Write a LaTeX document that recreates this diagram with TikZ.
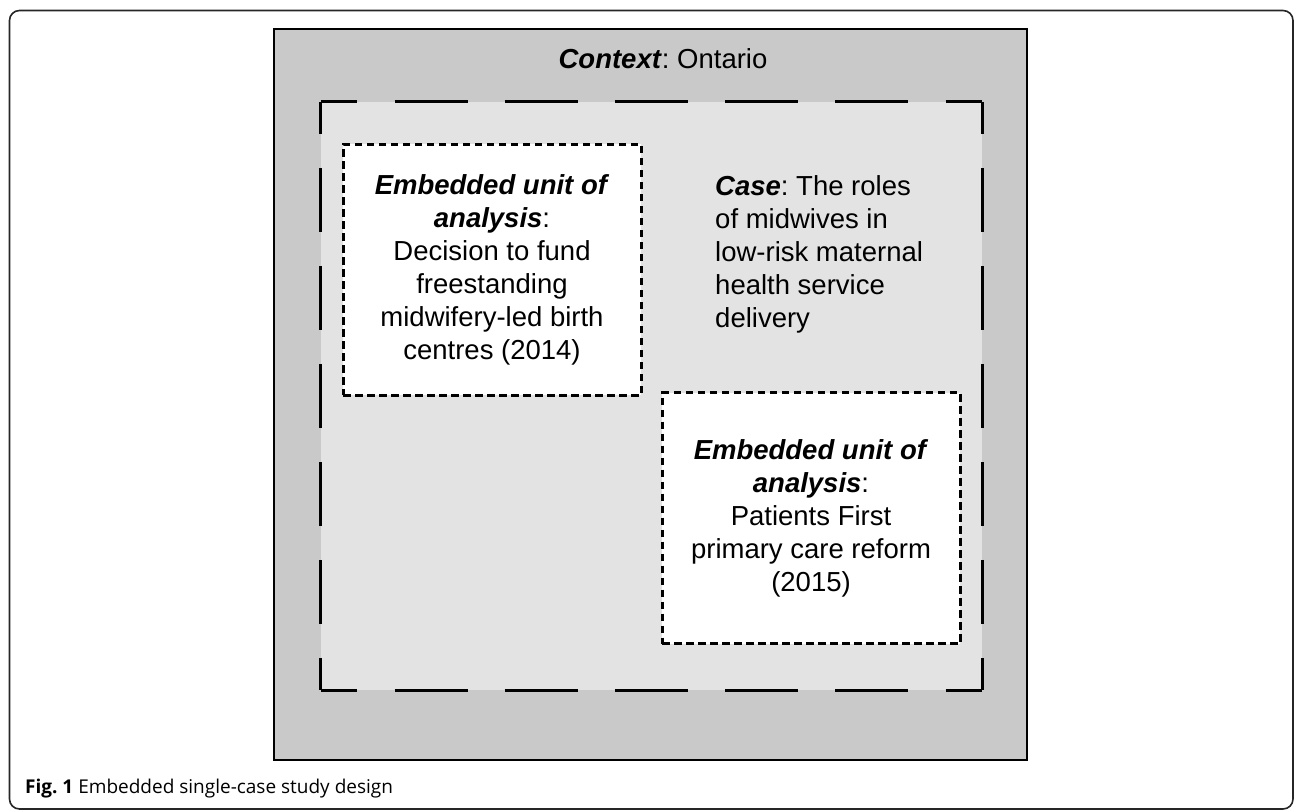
\documentclass[tikz,border=0pt]{standalone}
\usepackage{fontspec}
\setmainfont{Liberation Sans}
\newfontfamily\capfont{Open Sans}
\usetikzlibrary{positioning}
\frenchspacing

\definecolor{ctxgray}{gray}{0.79}
\definecolor{casegray}{gray}{0.89}
\newcommand{\bodyfont}{\fontsize{27.5}{33}\selectfont}

\begin{document}
\begin{tikzpicture}[x=1pt, y=-1pt,
    frame/.style={draw=black!85, line width=1.6pt, rounded corners=10pt},
    ctxbox/.style={rectangle, draw, fill=ctxgray, line width=2.8pt, minimum width=753pt, minimum height=731pt, inner sep=0pt},
    casebox/.style={rectangle, fill=casegray, minimum width=661pt, minimum height=588pt, inner sep=0pt},
    casetop/.style={line width=3pt, dash pattern=on 73pt off 37.2pt, dash phase=36.5pt},
    caseedge/.style={line width=3pt, dash pattern=on 64pt off 34pt, dash phase=32pt},
    unitbox/.style={rectangle, draw, fill=white, line width=3pt, dash pattern=on 7.5pt off 4.5pt, minimum width=298pt, minimum height=251pt, align=center, font=\bodyfont},
    label/.style={font=\bodyfont, inner sep=0pt}
]
\useasboundingbox (0,0) rectangle (1295,811);

% Frame and caption
\draw[frame] (9.5,10.5) rectangle (1293,809);
\node[anchor=base west, inner sep=0pt, font=\capfont\fontsize{19}{22}\selectfont] (caption) at (25,793) {\textbf{Fig. 1} Embedded single-case study design};

% Context, case and units
\node[ctxbox]  (ctx)   at (650.5, 394.5) {};
\node[casebox] (case)  at (651.5, 396) {};
\node[unitbox] (unit1) at (492, 269.5) {\textbf{\textit{Embedded unit of}}\\\textbf{\textit{analysis}}:\\Decision to fund\\freestanding\\midwifery-led birth\\centres (2014)};
\node[unitbox] (unit2) at (811, 518) {\textbf{\textit{Embedded unit of}}\\\textbf{\textit{analysis}}:\\Patients First\\primary care reform\\(2015)};

% Dashed case border
\draw[casetop]  (case.north west) -- (case.north east);
\draw[casetop]  (case.south west) -- (case.south east);
\draw[caseedge] (case.north west) -- (case.south west);
\draw[caseedge] (case.north east) -- (case.south east);

% Labels
\node[label, anchor=base] (ctxlabel) at (663, 68) {\textbf{\textit{Context}}: Ontario};
\node[label, anchor=base west, align=left] (caselabel) at (715, 327) {\textbf{\textit{Case}}: The roles\\of midwives in\\low-risk maternal\\health service\\delivery};

\end{tikzpicture}
\end{document}
